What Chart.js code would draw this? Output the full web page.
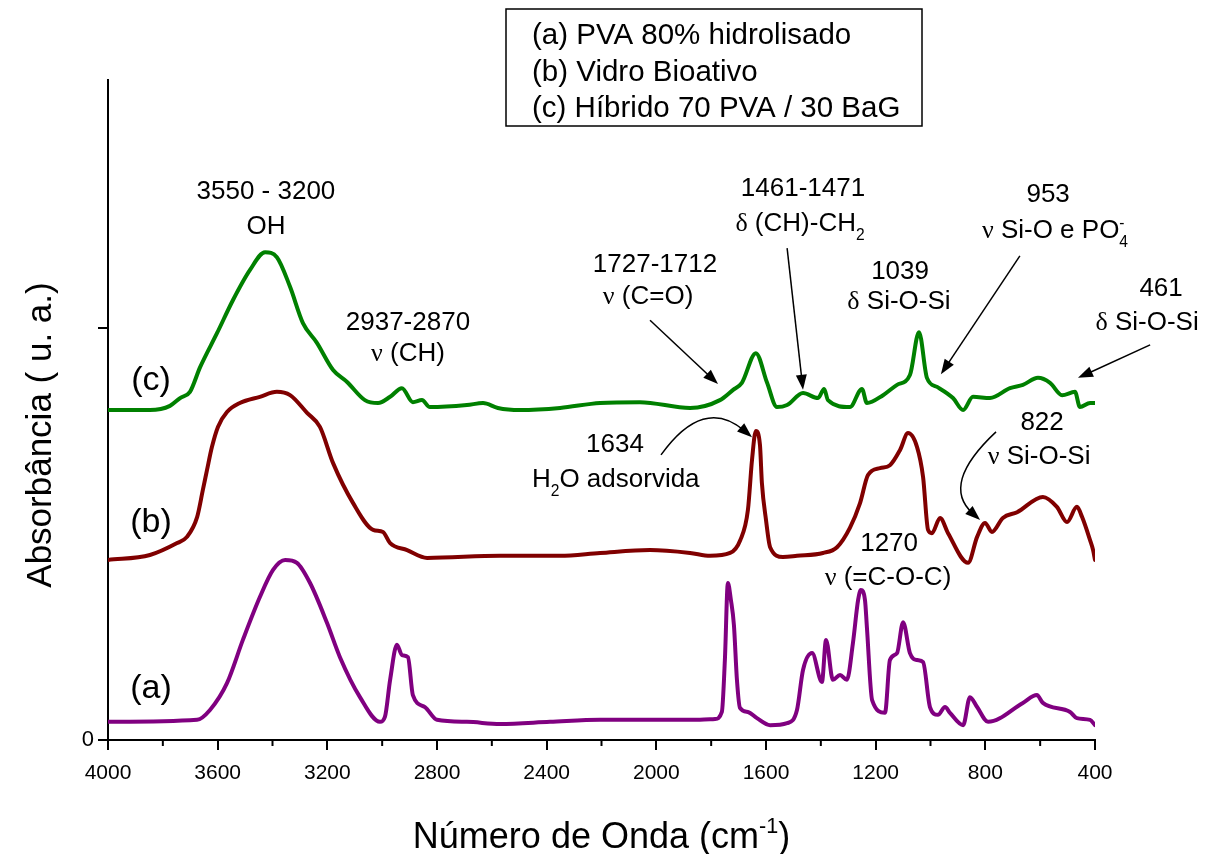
<!DOCTYPE html>
<html>
<head>
<meta charset="utf-8">
<script src="https://cdn.jsdelivr.net/npm/chart.js@4/dist/chart.umd.min.js"></script>
<style>
  html, body { margin: 0; background: #fff; }
</style>
</head>
<body>
<canvas id="ftir" width="1205" height="854"></canvas>
<script>
// wavenumbers (cm-1) and absorbance
const waveA = [4000,3675,3628,3566,3508,3446,3398,3354,3311,3263,3201,3154,3081,3008,2990,2971,2946,2928,2906,2888,2844,2800,2691,2570,2388,2205,2023,1841,1786,1761,1750,1739,1728,1717,1706,1695,1666,1633,1585,1523,1487,1465,1432,1396,1381,1356,1330,1305,1283,1264,1254,1239,1232,1213,1166,1148,1122,1100,1075,1049,1027,1002,973,947,929,881,856,830,790,663,612,590,491,466,418,400];
const absA  = [0.044,0.049,0.073,0.138,0.243,0.347,0.413,0.437,0.430,0.381,0.284,0.201,0.104,0.044,0.056,0.146,0.231,0.206,0.201,0.109,0.080,0.049,0.044,0.039,0.044,0.049,0.049,0.049,0.051,0.068,0.194,0.381,0.340,0.279,0.146,0.078,0.068,0.053,0.036,0.041,0.073,0.170,0.211,0.141,0.243,0.146,0.158,0.146,0.235,0.340,0.364,0.340,0.274,0.097,0.066,0.194,0.211,0.286,0.211,0.194,0.189,0.080,0.061,0.080,0.066,0.036,0.104,0.080,0.044,0.090,0.109,0.090,0.068,0.053,0.049,0.036];

const waveB = [4000,3847,3748,3712,3675,3654,3639,3621,3599,3566,3519,3446,3384,3336,3274,3227,3179,3106,3033,2997,2971,2909,2836,2570,2351,2205,2023,1877,1804,1731,1694,1666,1651,1637,1622,1615,1600,1585,1538,1487,1392,1341,1294,1257,1228,1184,1148,1111,1082,1049,1027,1009,995,965,936,863,830,801,776,736,684,590,539,502,466,447,418,407,400];
const absB  = [0.437,0.449,0.478,0.493,0.541,0.607,0.655,0.711,0.760,0.796,0.818,0.833,0.845,0.837,0.794,0.760,0.672,0.575,0.510,0.505,0.478,0.461,0.442,0.447,0.447,0.454,0.461,0.454,0.447,0.454,0.485,0.558,0.680,0.750,0.716,0.624,0.534,0.468,0.444,0.447,0.454,0.468,0.515,0.575,0.643,0.660,0.667,0.704,0.745,0.711,0.638,0.510,0.502,0.539,0.502,0.430,0.493,0.527,0.505,0.539,0.553,0.590,0.566,0.529,0.566,0.541,0.485,0.461,0.437];

const waveC = [4000,3847,3774,3737,3701,3664,3602,3544,3482,3427,3384,3336,3289,3238,3179,3128,3063,3015,2971,2928,2888,2855,2826,2691,2632,2578,2497,2351,2205,2060,1877,1768,1720,1688,1637,1596,1560,1523,1465,1410,1388,1374,1294,1250,1232,1173,1122,1075,1042,1013,976,918,881,845,783,710,663,608,564,520,473,455,418,400];
const absC  = [0.801,0.801,0.811,0.830,0.845,0.905,0.988,1.068,1.141,1.184,1.172,1.100,1.012,0.964,0.898,0.869,0.825,0.818,0.833,0.854,0.820,0.825,0.808,0.813,0.818,0.806,0.801,0.806,0.818,0.820,0.806,0.825,0.850,0.867,0.939,0.867,0.808,0.813,0.842,0.830,0.852,0.825,0.808,0.852,0.818,0.837,0.862,0.886,0.990,0.879,0.857,0.830,0.801,0.833,0.830,0.854,0.862,0.879,0.867,0.837,0.845,0.808,0.818,0.818];

const legendLines = ['(a) PVA 80% hidrolisado', '(b) Vidro Bioativo', '(c) Híbrido 70 PVA / 30 BaG'];

// band labels, placed in data units (wavenumber, absorbance)
const notes = [
  { x: 3424, y: 1.335, parts: [['3550 - 3200']] },
  { x: 3424, y: 1.250, parts: [['OH']] },
  { x: 2906, y: 1.019, parts: [['2937-2870']] },
  { x: 2906, y: 0.942, parts: [['ν', 'g'], [' (CH)']] },
  { x: 2005, y: 1.158, parts: [['1727-1712']] },
  { x: 2030, y: 1.080, parts: [['ν', 'g'], [' (C=O)']] },
  { x: 1465, y: 1.342, parts: [['1461-1471']] },
  { x: 1476, y: 1.257, parts: [['δ', 'g'], [' (CH)-CH'], ['2', 'sub']] },
  { x: 1111, y: 1.141, parts: [['1039']] },
  { x: 1115, y: 1.068, parts: [['δ', 'g'], [' Si-O-Si']] },
  { x: 571,  y: 1.328, parts: [['953']] },
  { x: 546,  y: 1.240, parts: [['ν', 'g'], [' Si-O e PO'], ['4', 'sub'], ['-', 'sup']] },
  { x: 159,  y: 1.100, parts: [['461']] },
  { x: 210,  y: 1.019, parts: [['δ', 'g'], [' Si-O-Si']] },
  { x: 2151, y: 0.721, parts: [['1634']] },
  { x: 2148, y: 0.636, parts: [['H'], ['2', 'sub'], ['O adsorvida']] },
  { x: 593,  y: 0.774, parts: [['822']] },
  { x: 604,  y: 0.692, parts: [['ν', 'g'], [' Si-O-Si']] },
  { x: 1151, y: 0.481, parts: [['1270']] },
  { x: 1155, y: 0.400, parts: [['ν', 'g'], [' (=C-O-C)']] },
  { x: 3843, y: 0.879, parts: [['(c)']], size: 34 },
  { x: 3843, y: 0.534, parts: [['(b)']], size: 34 },
  { x: 3843, y: 0.131, parts: [['(a)']], size: 34 }
];

const arrows = [
  { from: [2023, 1.019], to: [1775, 0.864] },
  { from: [1523, 1.194], to: [1465, 0.850] },
  { from: [674, 1.175], to: [962, 0.888] },
  { from: [199, 0.959], to: [462, 0.879] },
  { from: [1983, 0.692], ctrl: [1828, 0.836], to: [1651, 0.735] },
  { from: [761, 0.748], ctrl: [965, 0.621], to: [819, 0.534] }
];

const SANS = '"Liberation Sans", Arial, sans-serif';
const SERIF = '"Liberation Serif", "Times New Roman", serif';

function pairs(xs, ys) {
  return xs.map((v, i) => ({ x: v, y: ys[i] }));
}

// text with greek letters, subscripts and superscripts, centred on (cx, cy)
function rich(ctx, parts, cx, cy, size) {
  const small = size * 0.6;
  const fontOf = k => (k === 'sub' || k === 'sup' ? small : size) + 'px ' + (k === 'g' ? SERIF : SANS);
  let total = 0, prevSubW = 0;
  const items = parts.map(p => {
    const kind = p[1] || '';
    ctx.font = fontOf(kind);
    const w = ctx.measureText(p[0]).width;
    let adv = w, back = 0;
    if (kind === 'sup' && prevSubW) { back = prevSubW; adv = Math.max(0, w - prevSubW); }
    prevSubW = kind === 'sub' ? w : 0;
    total += adv;
    return { text: p[0], kind, w, adv, back };
  });
  let x = cx - total / 2;
  const base = cy + size * 0.36;
  ctx.textAlign = 'left';
  ctx.textBaseline = 'alphabetic';
  items.forEach(it => {
    ctx.font = fontOf(it.kind);
    let dy = 0;
    if (it.kind === 'sub') dy = size * 0.32;
    if (it.kind === 'sup') dy = -size * 0.42;
    ctx.fillText(it.text, x - it.back, base + dy);
    x += it.adv;
  });
}

function arrowHead(ctx, x, y, ang) {
  const len = 15, half = 5.5;
  ctx.beginPath();
  ctx.moveTo(x, y);
  ctx.lineTo(x - len * Math.cos(ang) + half * Math.sin(ang), y - len * Math.sin(ang) - half * Math.cos(ang));
  ctx.lineTo(x - len * Math.cos(ang) - half * Math.sin(ang), y - len * Math.sin(ang) + half * Math.cos(ang));
  ctx.closePath();
  ctx.fill();
}

const decor = {
  id: 'decor',
  afterDraw(chart) {
    const { ctx, chartArea: area, scales: { x, y } } = chart;
    const px = v => x.getPixelForValue(v);
    const py = v => y.getPixelForValue(v);
    ctx.save();
    ctx.fillStyle = '#000';
    ctx.strokeStyle = '#000';

    // minor ticks on the x axis
    ctx.lineWidth = 2;
    for (let v = 600; v < 4000; v += 400) {
      ctx.beginPath();
      ctx.moveTo(px(v), area.bottom);
      ctx.lineTo(px(v), area.bottom + 6);
      ctx.stroke();
    }

    notes.forEach(n => rich(ctx, n.parts, px(n.x), py(n.y), n.size || 26));

    // arrows
    ctx.lineWidth = 1.5;
    arrows.forEach(a => {
      const x0 = px(a.from[0]), y0 = py(a.from[1]);
      const x1 = px(a.to[0]), y1 = py(a.to[1]);
      let ang;
      ctx.beginPath();
      ctx.moveTo(x0, y0);
      if (a.ctrl) {
        const cx = px(a.ctrl[0]), cy = py(a.ctrl[1]);
        ang = Math.atan2(y1 - cy, x1 - cx);
        ctx.quadraticCurveTo(cx, cy, x1 - 10 * Math.cos(ang), y1 - 10 * Math.sin(ang));
      } else {
        ang = Math.atan2(y1 - y0, x1 - x0);
        ctx.lineTo(x1 - 10 * Math.cos(ang), y1 - 10 * Math.sin(ang));
      }
      ctx.stroke();
      arrowHead(ctx, x1, y1, ang);
    });

    // legend box
    ctx.lineWidth = 1.5;
    ctx.strokeRect(506, 9, 416, 117);
    ctx.font = '29.5px ' + SANS;
    ctx.textAlign = 'left';
    ctx.textBaseline = 'middle';
    legendLines.forEach((t, i) => ctx.fillText(t, 532, 36 + i * 36.5));

    // axis titles
    rich(ctx, [['Número de Onda (cm'], ['-1', 'sup'], [')']], (area.left + area.right) / 2, area.bottom + 95, 36);
    ctx.save();
    ctx.translate(38, 435);
    ctx.rotate(-Math.PI / 2);
    rich(ctx, [['Absorbância ( u. a.)']], 0, 0, 35);
    ctx.restore();
    ctx.restore();
  }
};

const lineStyle = { pointRadius: 0, borderWidth: 4, fill: false, cubicInterpolationMode: 'monotone', borderJoinStyle: 'round', borderCapStyle: 'round' };

new Chart(document.getElementById('ftir'), {
  type: 'line',
  data: {
    datasets: [
      { label: '(a)', data: pairs(waveA, absA), borderColor: '#800080', ...lineStyle },
      { label: '(b)', data: pairs(waveB, absB), borderColor: '#800000', ...lineStyle },
      { label: '(c)', data: pairs(waveC, absC), borderColor: '#008000', ...lineStyle }
    ]
  },
  options: {
    responsive: false,
    animation: false,
    events: [],
    layout: { padding: { top: 80, right: 110, left: 0, bottom: 0 } },
    plugins: { legend: { display: false }, tooltip: { enabled: false } },
    scales: {
      x: {
        type: 'linear',
        reverse: true,
        min: 400,
        max: 4000,
        afterFit: s => { s.height = 114; },
        afterBuildTicks: s => { s.ticks = []; for (let v = 400; v <= 4000; v += 400) s.ticks.push({ value: v }); },
        ticks: { autoSkip: false, maxRotation: 0, padding: 11, color: '#000', font: { family: SANS, size: 21 }, callback: v => String(v) },
        grid: { drawOnChartArea: false, drawTicks: true, tickLength: 10, color: '#000', lineWidth: 2 },
        border: { display: true, color: '#000', width: 2 }
      },
      y: {
        min: 0,
        max: 1.602,
        afterFit: s => { s.width = 108; },
        afterBuildTicks: s => { s.ticks = [{ value: 0 }, { value: 1 }]; },
        ticks: { padding: 4, color: '#000', font: { family: SANS, size: 22 }, callback: v => (v === 0 ? '0' : '') },
        grid: { drawOnChartArea: false, drawTicks: true, tickLength: 10, color: '#000', lineWidth: 2 },
        border: { display: true, color: '#000', width: 2 }
      }
    }
  },
  plugins: [decor]
});
</script>
</body>
</html>
